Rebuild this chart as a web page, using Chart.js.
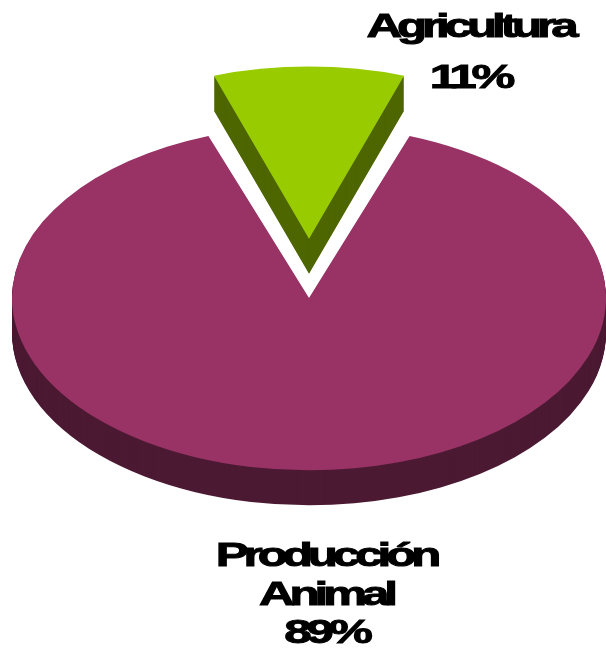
<!DOCTYPE html>
<html>
<head>
<meta charset="utf-8">
<script src="https://cdn.jsdelivr.net/npm/chart.js@4"></script>
<style>
    body { margin: 0; background: #fff; }
    #caja { width: 606px; height: 654px; }
</style>
</head>
<body>
<div id="caja"><canvas id="grafico"></canvas></div>
<script>
// datos del grafico
const categorias = ["Agricultura", "Producción Animal"];
const porcentajes = [11, 89];
// como se parte cada etiqueta en lineas
const lineasEtiqueta = [["Agricultura"], ["Producción", "Animal"]];

const coloresCara = ["#99cc00", "#993366"];
const coloresLado = ["#4e6600", "#4c1a33"];

const ALTO = 0.58;   // aplastamiento vertical del pastel
const GROSOR = 35;   // espesor en px

const pastel3d = {
    id: "pastel3d",
    afterDatasetUpdate(chart, args) {
        // chart.js agranda el radio del sector separado con el offset, lo compenso
        args.meta.data.forEach(function (el) {
            const off = (el.options.offset || 0) / 4;
            const fix = 1 - Math.sin(Math.min(Math.PI, el.circumference));
            el.outerRadius -= off * fix;
        });
    },
    beforeDatasetsDraw(chart) {
        const ctx = chart.ctx;
        const meta = chart.getDatasetMeta(0);
        const cx = meta.data[0].x, cy = meta.data[0].y;
        ctx.save();
        ctx.translate(cx, cy);
        ctx.scale(1, ALTO);
        ctx.translate(-cx, -cy);
        // el lado: copias del sector desplazadas hacia abajo
        meta.data.forEach(function (el, i) {
            const lado = Object.assign(Object.create(Object.getPrototypeOf(el)), el);
            lado.options = Object.assign({}, el.options, {backgroundColor: coloresLado[i], borderWidth: 0});
            for (let d = GROSOR; d > 0; d--) {
                ctx.save();
                ctx.translate(0, d / ALTO);
                lado.draw(ctx);
                ctx.restore();
            }
        });
    },
    afterDatasetsDraw(chart) {
        chart.ctx.restore();
    },
    afterDraw(chart) {
        const ctx = chart.ctx;
        // posiciones de los textos: [centro x, base de cada linea]
        const pos = [
            {x: 470, y: [37, 88]},
            {x: 326, y: [566, 605, 643]}
        ];
        categorias.forEach(function (c, i) {
            const lineas = lineasEtiqueta[i].concat([porcentajes[i] + "%"]);
            lineas.forEach(function (txt, j) {
                ctx.save();
                ctx.font = "bold 34px 'Liberation Sans', Arial, sans-serif";
                ctx.letterSpacing = "-3.5px";
                ctx.fillStyle = "#000";
                ctx.strokeStyle = "#000";
                ctx.lineWidth = 1;
                ctx.textAlign = "center";
                ctx.textBaseline = "alphabetic";
                ctx.translate(pos[i].x, pos[i].y[j]);
                ctx.scale(1.45, 1);
                ctx.fillText(txt, 0, 0);
                ctx.strokeText(txt, 0, 0);
                ctx.restore();
            });
        });
    }
};

const ctx = document.getElementById("grafico").getContext("2d");

const chart = new Chart(ctx, {
    type: "pie",
    data: {
        labels: categorias,
        datasets: [{
            data: porcentajes,
            backgroundColor: coloresCara,
            borderWidth: 0,
            offset: [408, 0]
        }]
    },
    options: {
        responsive: true,
        maintainAspectRatio: false,
        animation: false,
        rotation: -porcentajes[0] * 360 / 100 / 2,
        radius: 297,
        layout: {padding: {left: 12, right: 0, top: 0, bottom: 58}},
        plugins: {
            legend: {display: false},
            tooltip: {enabled: false}
        },
        events: []
    },
    plugins: [pastel3d]
});
</script>
</body>
</html>
